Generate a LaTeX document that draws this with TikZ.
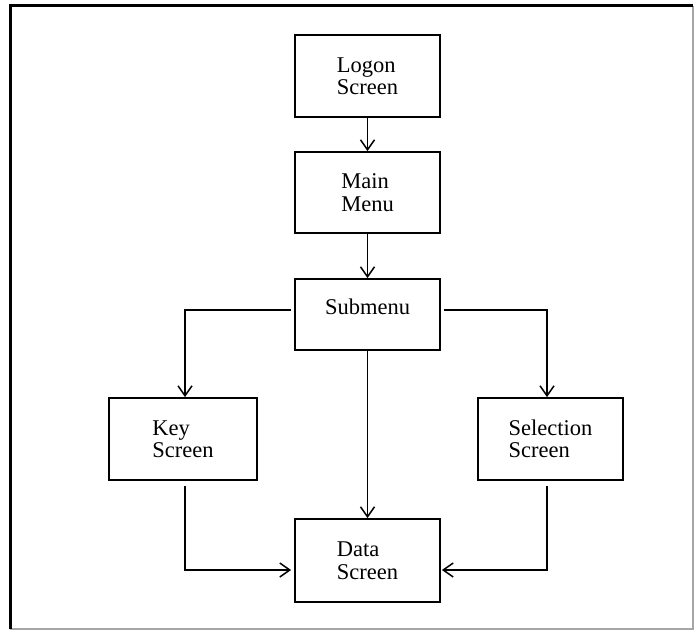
\documentclass[tikz,border=0pt]{standalone}
\usepackage{fontspec}
\setmainfont{Liberation Serif}
\usetikzlibrary{arrows.meta}

\begin{document}
\begin{tikzpicture}[x=1pt, y=-1pt, >={Straight Barb[length=10pt,width=14pt]},
		screen/.style={rectangle, draw=black, line width=1.8pt, minimum width=145pt, minimum height=82pt, inner sep=0pt, align=left, font=\fontsize{22.5}{22.5}\selectfont},
		link/.style={->, line width=1.5pt}]
			\useasboundingbox (0,0) rectangle (698,631);
			% Frame
			\draw[black!35, line width=1.2pt] (693,6) -- (693,629) -- (10,629);
			\draw[black, line width=3pt] (10,629) -- (10,6) -- (693,6);
			
			% Screens
			\node[screen] (logon) at (367.5,76) {Logon\\Screen};
			\node[screen, minimum height=81pt] (main) at (367.5,192.5) {Main\\Menu};
			\node[screen, minimum height=71pt, text depth=15pt] (sub) at (367.5,314.5) {Submenu};
			\node[screen, minimum width=148pt] (key) at (183,439) {Key\\Screen};
			\node[screen] (sel) at (550.5,439) {Selection\\Screen};
			\node[screen, minimum height=83pt] (data) at (367.5,560.5) {Data\\Screen};
			
			% Connections
			\draw[link] (logon) -- (main);
			\draw[link] (main) -- (sub);
			\draw[link] (sub) -- (data);
			\draw[link] ([xshift=-3pt, yshift=4.5pt]sub.west) -| ([xshift=2pt]key.north);
			\draw[link] ([xshift=3pt, yshift=4.5pt]sub.east) -| ([xshift=-3.5pt]sel.north);
			\draw[link] ([xshift=2pt, yshift=-5pt]key.south) |- ([xshift=-3pt, yshift=-9.5pt]data.west);
			\draw[link] ([xshift=-3.5pt, yshift=-5pt]sel.south) |- ([xshift=1pt, yshift=-9.5pt]data.east);
		\end{tikzpicture}
\end{document}
